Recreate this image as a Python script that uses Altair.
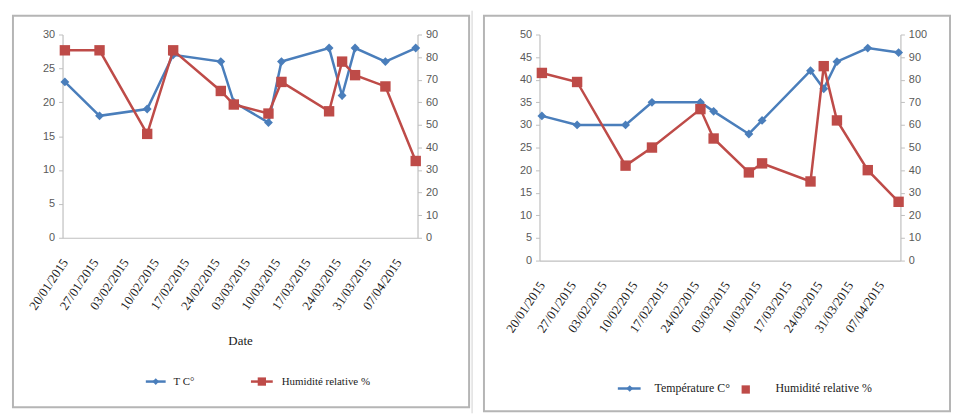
import altair as alt
import pandas as pd

# ---- data ----
dates = ["2015-01-20", "2015-01-28", "2015-02-08", "2015-02-14", "2015-02-25",
         "2015-02-28", "2015-03-08", "2015-03-11", "2015-03-22", "2015-03-25",
         "2015-03-28", "2015-04-04", "2015-04-11"]
temp_left = [23, 18, 19, 27, 26, 20, 17, 26, 28, 21, 28, 26, 28]
hum_left = [83, 83, 46, 83, 65, 59, 55, 69, 56, 78, 72, 67, 34]
temp_right = [32, 30, 30, 35, 35, 33, 28, 31, 42, 38, 44, 47, 46]
hum_right = [83, 79, 42, 50, 67, 54, 39, 43, 35, 86, 62, 40, 26]
tick_labels = ["20/01/2015", "27/01/2015", "03/02/2015", "10/02/2015",
               "17/02/2015", "24/02/2015", "03/03/2015", "10/03/2015",
               "17/03/2015", "24/03/2015", "31/03/2015", "07/04/2015"]
left_temp_ticks = [0, 5, 10, 15, 20, 25, 30]
left_hum_ticks = [0, 10, 20, 30, 40, 50, 60, 70, 80, 90]
right_temp_ticks = [0, 5, 10, 15, 20, 25, 30, 35, 40, 45, 50]
right_hum_ticks = [0, 10, 20, 30, 40, 50, 60, 70, 80, 90, 100]

BLUE = "#4A7EBB"
RED = "#BE4B48"
AXIS_GRAY = "#BFBFBF"
LABEL_GRAY = "#595959"

epoch = pd.Timestamp("1970-01-01")
tick_ms = [int((pd.to_datetime(t, format="%d/%m/%Y") - epoch) / pd.Timedelta("1ms"))
           for t in tick_labels]

x_domain = [alt.DateTime(year=2015, month=1, date=19, hours=11, utc=True),
            alt.DateTime(year=2015, month=4, date=11, hours=10, utc=True)]


def x_enc(title):
    kw = dict(values=tick_ms, labelExpr="utcFormat(datum.value, '%d/%m/%Y')",
              labelAngle=-56, labelAlign="right", labelBaseline="middle",
              labelFont="Liberation Serif", labelFontSize=13, labelColor="#1a1a1a",
              labelPadding=22, ticks=False, grid=False, domainColor=AXIS_GRAY,
              domainWidth=1.2, labelOverlap=False)
    if title:
        kw.update(title=title, titleFont="Liberation Serif", titleFontSize=13,
                  titleFontWeight="normal", titleColor="#1a1a1a", titlePadding=23)
    else:
        kw.update(title=None)
    return alt.X("date:T", scale=alt.Scale(type="utc", domain=x_domain),
                 axis=alt.Axis(**kw))


def y_axis(orient, values):
    return alt.Axis(orient=orient, values=values, grid=False, title=None,
                    labelFont="Liberation Sans", labelFontSize=11,
                    labelColor=LABEL_GRAY, domainColor=AXIS_GRAY, domainWidth=1.2,
                    tickColor=AXIS_GRAY, tickSize=4, labelPadding=4)


def legend_line(x1, x2, y, color):
    return alt.Chart(alt.Data(values=[{"k": 1}])).mark_rule(
        color=color, strokeWidth=2.5).encode(
        x=alt.value(x1), x2=alt.value(x2), y=alt.value(y))


def legend_marker(x, y, color, shape, size):
    return alt.Chart(alt.Data(values=[{"k": 1}])).mark_point(
        shape=shape, filled=True, color=color, size=size, opacity=1).encode(
        x=alt.value(x), y=alt.value(y))


def legend_text(x, y, label, size):
    return alt.Chart(alt.Data(values=[{"label": label}])).mark_text(
        align="left", baseline="middle", font="Liberation Serif", fontSize=size,
        color="#1a1a1a").encode(x=alt.value(x), y=alt.value(y), text="label:N")


def frame(x1, x2, y1, y2):
    return alt.Chart(alt.Data(values=[{"k": 1}])).mark_rect(
        fillOpacity=0, stroke="#B5B5B5", strokeWidth=2).encode(
        x=alt.value(x1), x2=alt.value(x2), y=alt.value(y1), y2=alt.value(y2))


def separator(x, y1, y2):
    return alt.Chart(alt.Data(values=[{"k": 1}])).mark_rule(
        color="#D0D0D0", strokeWidth=1).encode(
        x=alt.value(x), y=alt.value(y1), y2=alt.value(y2))


def panel(temps, hums, t_dom, t_ticks, h_dom, h_ticks, w, h, xtitle,
          decor, legend_parts):
    df = pd.DataFrame({"date": dates, "temp": temps, "hum": hums})
    base = alt.Chart(df)
    tline = base.mark_line(
        color=BLUE, strokeWidth=2.5,
        point=alt.OverlayMarkDef(shape="diamond", filled=True, color=BLUE,
                                 size=80, opacity=1)).encode(
        x=x_enc(xtitle),
        y=alt.Y("temp:Q", scale=alt.Scale(domain=t_dom),
                axis=y_axis("left", t_ticks)))
    hline = base.mark_line(
        color=RED, strokeWidth=2.5,
        point=alt.OverlayMarkDef(shape="square", filled=True, color=RED,
                                 size=110, opacity=1)).encode(
        x=x_enc(xtitle),
        y=alt.Y("hum:Q", scale=alt.Scale(domain=h_dom),
                axis=y_axis("right", h_ticks)))
    layers = decor + [tline, hline] + legend_parts
    return alt.layer(*layers).resolve_scale(y="independent").properties(
        width=w, height=h)


left = panel(temp_left, hum_left, [0, 30], left_temp_ticks, [0, 90], left_hum_ticks,
             358, 205, "Date",
             [frame(-50, 410, -19, 376), separator(413, -24, 382)],
             [legend_line(84, 104, 350, BLUE),
              legend_marker(94, 350, BLUE, "diamond", 45),
              legend_text(112, 350, "T C°", 11),
              legend_line(190, 212, 350, RED),
              legend_marker(201, 350, RED, "square", 70),
              legend_text(221, 350, "Humidité relative %", 11)])

right = panel(temp_right, hum_right, [0, 50], right_temp_ticks, [0, 100],
              right_hum_ticks, 364, 228, None,
              [frame(-56, 414, -19, 380)],
              [legend_line(79, 102, 357, BLUE),
               legend_marker(91, 357, BLUE, "diamond", 45),
               legend_text(116, 357, "Température C°", 12),
               legend_marker(208, 358, RED, "square", 70),
               legend_text(238, 357, "Humidité relative %", 12)])

chart = alt.hconcat(left, right, spacing=10).properties(
    padding={"left": 4, "top": 0, "right": 0, "bottom": 0}
).configure_view(strokeWidth=0)

chart.save("out.html", embed_options={"renderer": "svg", "actions": False})
